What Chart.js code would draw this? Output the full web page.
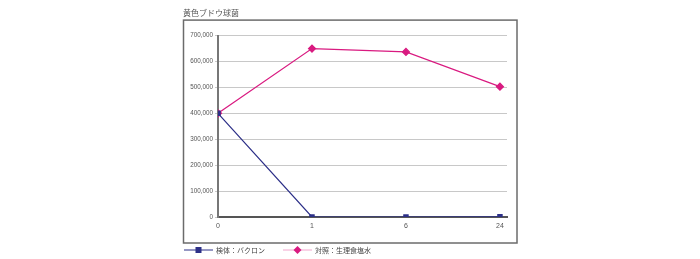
<!DOCTYPE html>
<html><head><meta charset="utf-8">
<script src="https://cdn.jsdelivr.net/npm/chart.js@4"></script>
<style>html,body{margin:0;padding:0;background:#fff;}#wrap{width:700px;height:259px;}</style>
</head><body><div id="wrap"><canvas id="c" width="700" height="259"></canvas></div>
<script>
const title = '黄色ブドウ球菌';
const categories = ['0', '1', '6', '24'];
const seriesNames = ['検体：バクロン', '対照：生理食塩水'];
const bacron = [400000, 0, 0, 1000];
const saline = [400000, 650000, 637000, 503000];
const yTicks = [0, 100000, 200000, 300000, 400000, 500000, 600000, 700000];

const BLUE = '#2d3088';
const PINK = '#d91a80';
const FONT = "'Liberation Sans', 'Noto Sans CJK JP', sans-serif";

const toPts = arr => arr.map((v, i) => ({x: i, y: v}));

const framePlugin = {
  id: 'frame',
  beforeDraw(chart) {
    const a = chart.chartArea, ctx = chart.ctx;
    ctx.save();
    ctx.strokeStyle = '#6b6b6b';
    ctx.lineWidth = 1.5;
    ctx.strokeRect(a.left - 34.5, a.top - 15.5, (a.right + 10) - (a.left - 34.5), (a.bottom + 26) - (a.top - 15.5));
    ctx.restore();
  },
  afterDraw(chart) {
    const a = chart.chartArea, ctx = chart.ctx;
    const y = a.bottom + 33;
    let x = a.left - 34;
    const offs = [0, 99];
    ctx.save();
    chart.data.datasets.forEach((ds, i) => {
      const x0 = x + offs[i];
      ctx.strokeStyle = ds.legendLine;
      ctx.lineWidth = 1;
      ctx.beginPath(); ctx.moveTo(x0, y); ctx.lineTo(x0 + 29, y); ctx.stroke();
      ctx.fillStyle = ds.pointBackgroundColor;
      const cx = x0 + 14.5;
      if (ds.pointStyle === 'rect') {
        ctx.fillRect(cx - 3, y - 3, 6, 6);
      } else {
        ctx.beginPath(); ctx.moveTo(cx, y - 4); ctx.lineTo(cx + 4, y); ctx.lineTo(cx, y + 4); ctx.lineTo(cx - 4, y); ctx.closePath(); ctx.fill();
      }
      ctx.fillStyle = '#444';
      ctx.font = "7px 'Noto Sans CJK JP', sans-serif";
      ctx.textBaseline = 'middle';
      ctx.fillText(ds.label, x0 + 32, y + 0.5);
    });
    ctx.restore();
  }
};

new Chart(document.getElementById('c'), {
  type: 'line',
  data: {
    datasets: [
      {label: seriesNames[0], data: toPts(bacron), borderColor: BLUE, backgroundColor: BLUE,
       pointBackgroundColor: BLUE, pointBorderColor: BLUE, pointStyle: 'rect', pointRadius: 3,
       borderWidth: 1.2, legendLine: BLUE},
      {label: seriesNames[1], data: toPts(saline), borderColor: PINK, backgroundColor: PINK,
       pointBackgroundColor: PINK, pointBorderColor: PINK, pointStyle: 'rectRot', pointRadius: 3.5,
       borderWidth: 1.2, legendLine: '#f2a6cd'}
    ]
  },
  options: {
    responsive: false,
    animation: false,
    layout: {padding: {left: 183, right: 193, top: 0, bottom: 16}},
    plugins: {
      legend: {display: false},
      tooltip: {enabled: false},
      title: {display: true, text: title, align: 'start', color: '#555',
              font: {family: "'Noto Sans CJK JP', sans-serif", size: 8, weight: 'normal'},
              padding: {top: 8, bottom: 18}}
    },
    scales: {
      x: {
        type: 'linear', min: 0, max: 3.075,
        afterBuildTicks(s) { s.ticks = categories.map((c, i) => ({value: i})); },
        afterFit(s) { s.height = 26; },
        grid: {display: false, drawTicks: false, tickLength: 0},
        border: {display: true, color: '#555', width: 2},
        ticks: {callback: v => categories[v], color: '#555', padding: 5, maxRotation: 0,
                font: {family: FONT, size: 7}}
      },
      y: {
        min: 0, max: 700000,
        afterBuildTicks(s) { s.ticks = yTicks.map(v => ({value: v})); },
        afterFit(s) { s.width = 35; },
        grid: {color: '#c8c8c8', lineWidth: 1, tickLength: 3, drawTicks: true},
        border: {display: true, color: '#777', width: 2},
        ticks: {callback: v => v.toLocaleString('en-US'), color: '#555', padding: 2,
                font: {family: FONT, size: 6.3}}
      }
    }
  },
  plugins: [framePlugin]
});
</script></body></html>
